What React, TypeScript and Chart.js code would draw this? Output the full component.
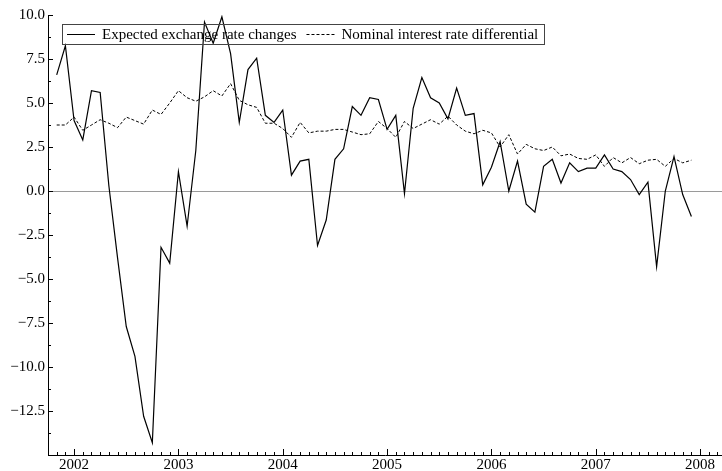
import React, { useEffect, useRef } from "react";
import { Chart, registerables } from "chart.js";

Chart.register(...registerables);

// Monthly observations, Nov 2001 – Dec 2007
const months: string[] = [
  "2001-11", "2001-12",
  "2002-01", "2002-02", "2002-03", "2002-04", "2002-05", "2002-06", "2002-07", "2002-08", "2002-09", "2002-10", "2002-11", "2002-12",
  "2003-01", "2003-02", "2003-03", "2003-04", "2003-05", "2003-06", "2003-07", "2003-08", "2003-09", "2003-10", "2003-11", "2003-12",
  "2004-01", "2004-02", "2004-03", "2004-04", "2004-05", "2004-06", "2004-07", "2004-08", "2004-09", "2004-10", "2004-11", "2004-12",
  "2005-01", "2005-02", "2005-03", "2005-04", "2005-05", "2005-06", "2005-07", "2005-08", "2005-09", "2005-10", "2005-11", "2005-12",
  "2006-01", "2006-02", "2006-03", "2006-04", "2006-05", "2006-06", "2006-07", "2006-08", "2006-09", "2006-10", "2006-11", "2006-12",
  "2007-01", "2007-02", "2007-03", "2007-04", "2007-05", "2007-06", "2007-07", "2007-08", "2007-09", "2007-10", "2007-11", "2007-12",
];

const expectedChanges: number[] = [
  6.6, 8.25,
  4.0, 2.9, 5.7, 5.6, 0.3, -3.8, -7.7, -9.4, -12.8, -14.3, -3.2, -4.1,
  1.1, -2.0, 2.3, 9.6, 8.4, 9.9, 7.8, 3.9, 6.9, 7.55, 4.3, 3.9,
  4.6, 0.9, 1.7, 1.8, -3.1, -1.65, 1.8, 2.4, 4.8, 4.3, 5.3, 5.2,
  3.5, 4.3, -0.15, 4.7, 6.45, 5.3, 5.0, 4.1, 5.85, 4.3, 4.4, 0.35,
  1.35, 2.8, 0.0, 1.7, -0.75, -1.2, 1.4, 1.8, 0.45, 1.6, 1.1, 1.3,
  1.3, 2.05, 1.25, 1.1, 0.65, -0.2, 0.5, -4.3, 0.0, 1.95, -0.2, -1.45,
];

const interestDifferential: number[] = [
  3.75, 3.75,
  4.2, 3.45, 3.75, 4.05, 3.85, 3.6, 4.2, 4.0, 3.8, 4.6, 4.35, 5.0,
  5.7, 5.3, 5.1, 5.35, 5.7, 5.4, 6.1, 5.15, 4.9, 4.75, 3.85, 3.85,
  3.55, 3.05, 3.9, 3.3, 3.4, 3.4, 3.5, 3.5, 3.35, 3.2, 3.25, 3.95,
  3.55, 3.05, 3.95, 3.55, 3.8, 4.05, 3.8, 4.25, 3.75, 3.4, 3.25, 3.45,
  3.3, 2.5, 3.2, 2.1, 2.65, 2.4, 2.3, 2.5, 2.0, 2.1, 1.85, 1.8,
  2.05, 1.4, 1.9, 1.6, 1.9, 1.55, 1.75, 1.8, 1.4, 1.85, 1.6, 1.75,
];

const yearTicks: number[] = [2002, 2003, 2004, 2005, 2006, 2007, 2008];
const yTicks: number[] = [-12.5, -10, -7.5, -5, -2.5, 0, 2.5, 5, 7.5, 10];
const seriesLabels: string[] = ["Expected exchange rate changes", "Nominal interest rate differential"];

const FONT = '"Liberation Serif", "Times New Roman", serif';

function monthToX(s: string): number {
  const [y, m] = s.split("-").map(Number);
  return y + (m - 1) / 12;
}

function fmtY(v: number): string {
  return v.toFixed(1).replace("-", "\u2212");
}

const decorPlugin = {
  id: "decor",
  beforeDatasetsDraw(chart: any) {
    const { ctx, chartArea, scales } = chart;
    const y0 = Math.round(scales.y.getPixelForValue(0)) + 0.5;
    ctx.save();
    ctx.strokeStyle = "#9a9a9a";
    ctx.lineWidth = 1.2;
    ctx.beginPath();
    ctx.moveTo(chartArea.left, y0);
    ctx.lineTo(chartArea.right, y0);
    ctx.stroke();
    ctx.restore();
  },
  afterDraw(chart: any) {
    const { ctx, chartArea, scales } = chart;
    const xs = scales.x;
    const ys = scales.y;
    ctx.save();
    ctx.strokeStyle = "#000";
    ctx.lineWidth = 1;
    ctx.beginPath();
    // x ticks: monthly minor, yearly major, pointing inward
    for (let yr = 2001; yr <= 2008; yr++) {
      for (let mo = 0; mo < 12; mo++) {
        const v = yr + mo / 12;
        if (v < xs.min || v > xs.max) continue;
        const px = Math.round(xs.getPixelForValue(v)) + 0.5;
        const len = mo === 0 ? 6 : 3;
        ctx.moveTo(px, chartArea.bottom);
        ctx.lineTo(px, chartArea.bottom - len);
      }
    }
    // y ticks: every 1.25, major every 2.5
    for (let v = ys.min; v <= ys.max + 1e-9; v += 1.25) {
      const py = Math.round(ys.getPixelForValue(v)) + 0.5;
      const major = Math.abs(v / 2.5 - Math.round(v / 2.5)) < 1e-6;
      const len = major ? 5 : 3;
      ctx.moveTo(chartArea.left, py);
      ctx.lineTo(chartArea.left + len, py);
    }
    ctx.stroke();

    // legend box inside the plot
    ctx.font = "15px " + FONT;
    ctx.textBaseline = "middle";
    ctx.fillStyle = "#000";
    const lx = chartArea.left + 14;
    const ly = chartArea.top + 9;
    const lh = 20;
    const mid = Math.round(ly + lh / 2) + 0.5;
    let cx = lx + 5;
    const dashes = [[], [3, 2]];
    seriesLabels.forEach((label, i) => {
      ctx.beginPath();
      ctx.setLineDash(dashes[i]);
      ctx.moveTo(cx, mid);
      ctx.lineTo(cx + 28, mid);
      ctx.stroke();
      ctx.setLineDash([]);
      cx += 28 + 7;
      ctx.fillText(label, cx, mid + 0.5);
      cx += ctx.measureText(label).width + 10;
    });
    const right = cx - 10 + 6;
    ctx.strokeStyle = "#444";
    ctx.strokeRect(Math.round(lx) + 0.5, Math.round(ly) + 0.5, Math.round(right - lx), lh);
    ctx.restore();
  },
};

export default function App() {
  const canvasRef = useRef<HTMLCanvasElement | null>(null);

  useEffect(() => {
    if (!canvasRef.current) return;
    const xs = months.map(monthToX);
    const chart = new Chart(canvasRef.current, {
      type: "line",
      data: {
        datasets: [
          {
            label: seriesLabels[0],
            data: expectedChanges.map((v, i) => ({ x: xs[i], y: v })),
            borderColor: "#000",
            borderWidth: 1.2,
            pointRadius: 0,
            tension: 0,
            fill: false,
          },
          {
            label: seriesLabels[1],
            data: interestDifferential.map((v, i) => ({ x: xs[i], y: v })),
            borderColor: "#000",
            borderWidth: 1,
            borderDash: [3, 2],
            pointRadius: 0,
            tension: 0,
            fill: false,
          },
        ],
      },
      options: {
        responsive: false,
        animation: false,
        events: [],
        layout: { padding: { top: 15, right: 0, left: 0, bottom: 0 } },
        plugins: { legend: { display: false }, tooltip: { enabled: false } },
        scales: {
          x: {
            type: "linear",
            min: 2001.75,
            max: 2008.21,
            afterBuildTicks: (s: any) => {
              s.ticks = yearTicks.map((v) => ({ value: v }));
            },
            afterFit: (s: any) => {
              s.height = 16;
            },
            ticks: {
              callback: (v: any) => String(v),
              font: { family: FONT, size: 15 },
              color: "#000",
              padding: 1,
              maxRotation: 0,
              autoSkip: false,
            },
            grid: { display: false, drawTicks: false },
            border: { display: true, color: "#000", width: 1 },
          },
          y: {
            type: "linear",
            min: -15,
            max: 10,
            afterBuildTicks: (s: any) => {
              s.ticks = yTicks.map((v) => ({ value: v }));
            },
            afterFit: (s: any) => {
              s.width = 48;
            },
            ticks: {
              callback: (v: any) => fmtY(Number(v)),
              font: { family: FONT, size: 15 },
              color: "#000",
              padding: 3,
              autoSkip: false,
            },
            grid: { display: false, drawTicks: false },
            border: { display: true, color: "#000", width: 1 },
          },
        },
      },
      plugins: [decorPlugin],
    });
    return () => chart.destroy();
  }, []);

  return (
    <div style={{ position: "fixed", left: 0, top: 0, width: 722, height: 471, background: "#fff" }}>
      <canvas ref={canvasRef} width={722} height={471} style={{ display: "block" }} />
    </div>
  );
}
